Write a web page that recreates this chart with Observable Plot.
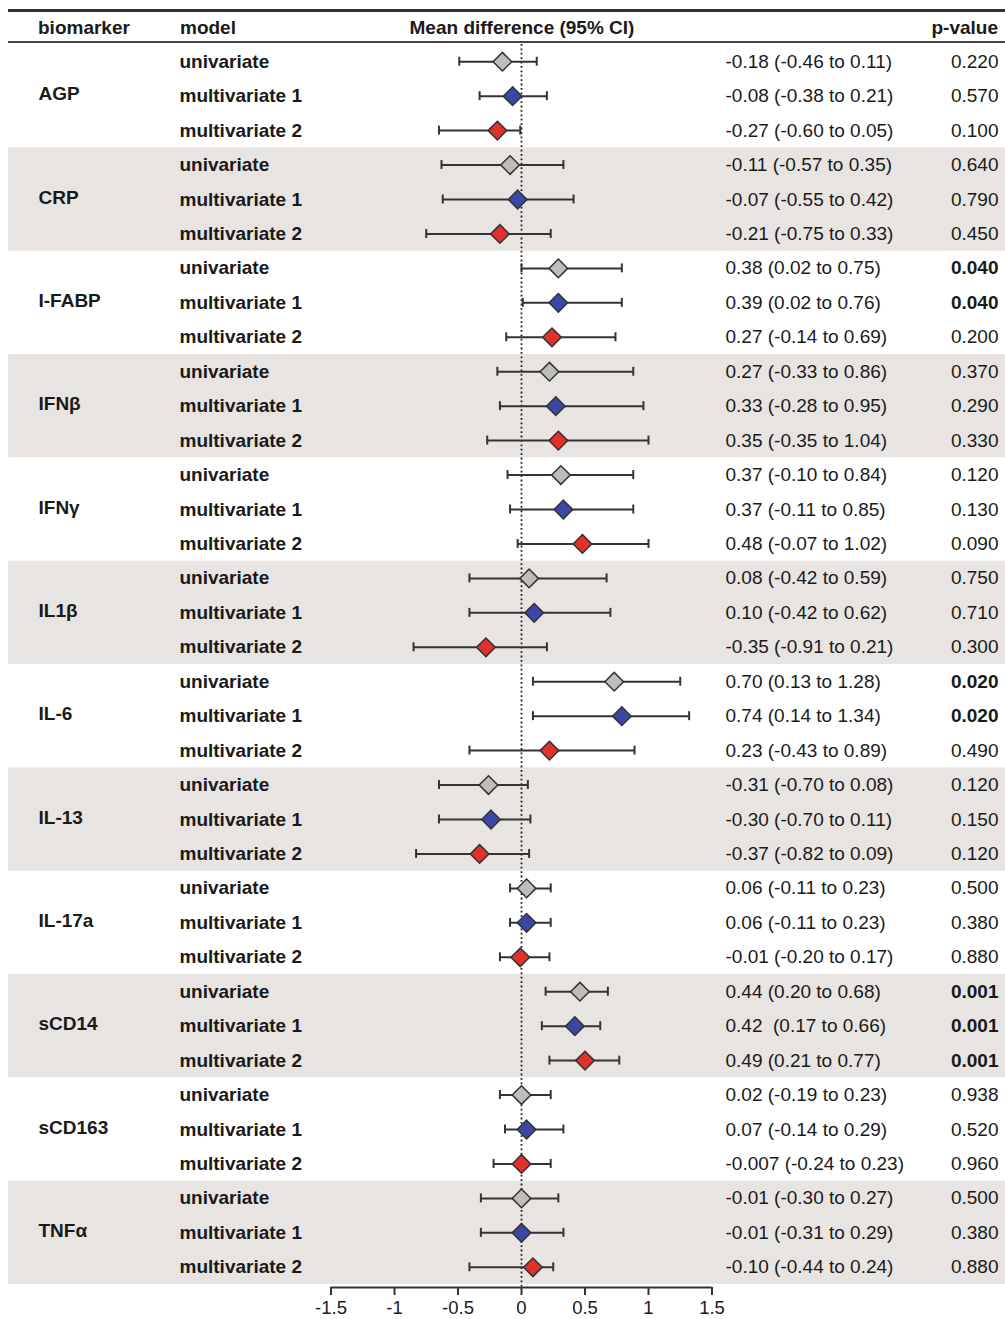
<!DOCTYPE html>
<html>
<head>
<meta charset="utf-8">
<script src="https://cdn.jsdelivr.net/npm/d3@7"></script>
<script src="https://cdn.jsdelivr.net/npm/@observablehq/plot@0.6"></script>
<style>
  html, body { margin: 0; padding: 0; background: #ffffff; }
  #wrap { position: relative; width: 1005px; height: 1319px; font-family: "Liberation Sans", Arial, sans-serif; color: #1a1a1a; }
  #header { position: relative; width: 1005px; height: 44px; }
  #header .line { position: absolute; left: 8px; right: 0; background: #333; }
  #header span { position: absolute; top: 18px; font-size: 19px; line-height: 19px; font-weight: bold; white-space: nowrap; }
  #chart svg { display: block; }
</style>
</head>
<body>
<div id="wrap">
  <div id="header">
    <div class="line" style="top:9px;height:3px;"></div>
    <span style="left:38px;">biomarker</span>
    <span style="left:180px;">model</span>
    <span style="left:522px;transform:translateX(-50%);">Mean difference (95% CI)</span>
    <span style="right:7px;">p-value</span>
    <div class="line" style="top:41px;height:2px;background:#444;"></div>
  </div>
  <div id="chart"></div>
</div>
<script>
const biomarkers = ["AGP", "CRP", "I-FABP", "IFNβ", "IFNγ", "IL1β", "IL-6", "IL-13", "IL-17a", "sCD14", "sCD163", "TNFα"];
const models = ["univariate", "multivariate 1", "multivariate 2"];
const modelColors = ["#bebdbb", "#3c47a5", "#e2302a"];

// plotted point estimates and CI ends
const estimate = [
  -0.15, -0.07, -0.19,
  -0.09, -0.03, -0.17,
   0.29,  0.29,  0.24,
   0.22,  0.27,  0.29,
   0.31,  0.33,  0.48,
   0.06,  0.10, -0.28,
   0.73,  0.79,  0.22,
  -0.26, -0.24, -0.33,
   0.04,  0.04, -0.01,
   0.46,  0.42,  0.50,
   0.00,  0.04,  0.00,
   0.00,  0.00,  0.09
];
const lower = [
  -0.49, -0.33, -0.65,
  -0.63, -0.62, -0.75,
   0.00,  0.01, -0.12,
  -0.19, -0.17, -0.27,
  -0.11, -0.09, -0.03,
  -0.41, -0.41, -0.85,
   0.09,  0.09, -0.41,
  -0.65, -0.65, -0.83,
  -0.09, -0.09, -0.17,
   0.19,  0.16,  0.22,
  -0.17, -0.13, -0.22,
  -0.32, -0.32, -0.41
];
const upper = [
   0.12,  0.20, -0.01,
   0.33,  0.41,  0.23,
   0.79,  0.79,  0.74,
   0.88,  0.96,  1.00,
   0.88,  0.88,  1.00,
   0.67,  0.70,  0.20,
   1.25,  1.32,  0.89,
   0.05,  0.07,  0.06,
   0.23,  0.23,  0.22,
   0.68,  0.62,  0.77,
   0.23,  0.33,  0.23,
   0.29,  0.33,  0.25
];
const estimateLabels = [
  "-0.18 (-0.46 to 0.11)", "-0.08 (-0.38 to 0.21)", "-0.27 (-0.60 to 0.05)",
  "-0.11 (-0.57 to 0.35)", "-0.07 (-0.55 to 0.42)", "-0.21 (-0.75 to 0.33)",
  "0.38 (0.02 to 0.75)", "0.39 (0.02 to 0.76)", "0.27 (-0.14 to 0.69)",
  "0.27 (-0.33 to 0.86)", "0.33 (-0.28 to 0.95)", "0.35 (-0.35 to 1.04)",
  "0.37 (-0.10 to 0.84)", "0.37 (-0.11 to 0.85)", "0.48 (-0.07 to 1.02)",
  "0.08 (-0.42 to 0.59)", "0.10 (-0.42 to 0.62)", "-0.35 (-0.91 to 0.21)",
  "0.70 (0.13 to 1.28)", "0.74 (0.14 to 1.34)", "0.23 (-0.43 to 0.89)",
  "-0.31 (-0.70 to 0.08)", "-0.30 (-0.70 to 0.11)", "-0.37 (-0.82 to 0.09)",
  "0.06 (-0.11 to 0.23)", "0.06 (-0.11 to 0.23)", "-0.01 (-0.20 to 0.17)",
  "0.44 (0.20 to 0.68)", "0.42\u00a0 (0.17 to 0.66)", "0.49 (0.21 to 0.77)",
  "0.02 (-0.19 to 0.23)", "0.07 (-0.14 to 0.29)", "-0.007 (-0.24 to 0.23)",
  "-0.01 (-0.30 to 0.27)", "-0.01 (-0.31 to 0.29)", "-0.10 (-0.44 to 0.24)"
];
const pValues = [
  "0.220", "0.570", "0.100",
  "0.640", "0.790", "0.450",
  "0.040", "0.040", "0.200",
  "0.370", "0.290", "0.330",
  "0.120", "0.130", "0.090",
  "0.750", "0.710", "0.300",
  "0.020", "0.020", "0.490",
  "0.120", "0.150", "0.120",
  "0.500", "0.380", "0.880",
  "0.001", "0.001", "0.001",
  "0.938", "0.520", "0.960",
  "0.500", "0.380", "0.880"
];
const xTicks = [-1.5, -1, -0.5, 0, 0.5, 1, 1.5];

const rows = [];
biomarkers.forEach((b, k) => models.forEach((m, j) => {
  const i = k * models.length + j;
  rows.push({biomarker: b, model: m, k, j, i, est: estimate[i], lo: lower[i], hi: upper[i], label: estimateLabels[i], p: pValues[i]});
}));
const groups = biomarkers.map((b, k) => ({biomarker: b, k}));
const nRows = rows.length;
const cy = d => d.i + 0.5;
const capHalf = 0.13;
const ink = "#1a1a1a";

const chart = Plot.plot({
  width: 1005,
  height: 1275,
  marginTop: 0,
  marginLeft: 0,
  marginRight: 0,
  marginBottom: 32,
  style: {fontFamily: "'Liberation Sans', Arial, sans-serif", fontSize: "19px", color: ink, background: "transparent", overflow: "visible"},
  x: {domain: [d3.min(xTicks), d3.max(xTicks)], range: [330.5, 711.5], axis: null},
  y: {domain: [0, nRows], range: [0, 1240], axis: null},
  color: {type: "identity"},
  marks: [
    Plot.rect(groups.filter(g => g.k % 2 === 1), {y1: g => g.k * 3, y2: g => g.k * 3 + 3, fill: "#e7e4e2", insetLeft: 8}),
    Plot.ruleX([0], {stroke: "#222", strokeWidth: 1.8, strokeDasharray: "1.8,2.6"}),
    Plot.ruleY(rows, {y: cy, x1: "lo", x2: "hi", stroke: "#333", strokeWidth: 2}),
    Plot.ruleX(rows, {x: "lo", y1: d => cy(d) - capHalf, y2: d => cy(d) + capHalf, stroke: "#333", strokeWidth: 2}),
    Plot.ruleX(rows, {x: "hi", y1: d => cy(d) - capHalf, y2: d => cy(d) + capHalf, stroke: "#333", strokeWidth: 2}),
    Plot.dot(rows, {x: "est", y: cy, symbol: "diamond2", r: 8.4, fill: d => modelColors[d.j], stroke: "#333", strokeWidth: 1.5}),
    Plot.text(rows.filter(d => d.j === 1), {text: "biomarker", y: cy, frameAnchor: "left", dx: 38, dy: -2, textAnchor: "start", fontWeight: "bold", fontSize: 19, fill: ink}),
    Plot.text(rows, {text: "model", y: cy, frameAnchor: "left", dx: 179, textAnchor: "start", fontWeight: "bold", fontSize: 19, fill: ink}),
    Plot.text(rows, {text: "label", y: cy, frameAnchor: "left", dx: 725, textAnchor: "start", fontSize: 19, fill: ink}),
    Plot.text(rows.filter(d => +d.p >= 0.05), {text: "p", y: cy, frameAnchor: "right", dx: -7, textAnchor: "end", fontSize: 19, fill: ink}),
    Plot.text(rows.filter(d => +d.p < 0.05), {text: "p", y: cy, frameAnchor: "right", dx: -7, textAnchor: "end", fontSize: 19, fontWeight: "bold", fill: ink}),
    Plot.ruleY([nRows], {x1: d3.min(xTicks), x2: d3.max(xTicks), dy: 3, stroke: "#333", strokeWidth: 2}),
    Plot.axisX(xTicks, {anchor: "bottom", tickSize: 8, tickPadding: 5, tickFormat: d => String(d), fontSize: 18.5, stroke: "#333", strokeWidth: 2, fill: ink, label: null})
  ]
});
document.getElementById("chart").appendChild(chart);
</script>
</body>
</html>
